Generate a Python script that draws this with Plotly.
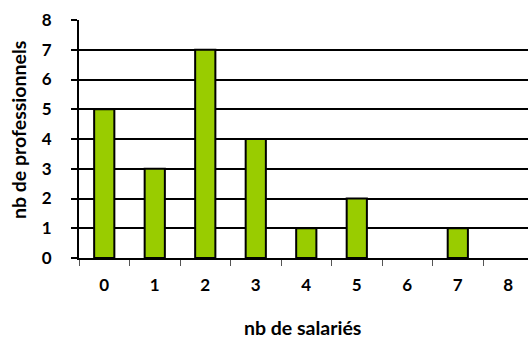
import plotly.graph_objects as go

# Number of professionals by number of employees
salaries = ["0", "1", "2", "3", "4", "5", "6", "7", "8"]
professionnels = [5, 3, 7, 4, 1, 2, 0, 1, 0]

W, H = 528, 340
ML, MT, MB = 79, 20, 82

# no outline on empty categories
outline_widths = [2 if v > 0 else 0 for v in professionnels]

fig = go.Figure(
    go.Bar(
        x=salaries,
        y=professionnels,
        width=0.4,
        marker=dict(color="#99CC00", line=dict(color="black", width=outline_widths)),
    )
)

tick_font = dict(family="Lato", size=17, color="black", weight="bold")
title_font = dict(family="Lato", size=19.5, color="black", weight="bold")

fig.update_layout(
    width=W,
    height=H,
    margin=dict(l=ML, r=0, t=MT, b=MB, pad=0),
    paper_bgcolor="white",
    plot_bgcolor="white",
    showlegend=False,
    xaxis=dict(
        type="category",
        range=[-0.5, 8.39],
        showline=True,
        linecolor="black",
        linewidth=2,
        showgrid=False,
        ticks="outside",
        tickson="boundaries",
        ticklen=6,
        tickwidth=1,
        tickcolor="#555555",
        tickfont=tick_font,
        ticklabelstandoff=11,
        fixedrange=True,
    ),
    yaxis=dict(
        range=[0, 8],
        dtick=1,
        showline=True,
        linecolor="black",
        linewidth=2,
        showgrid=True,
        gridcolor="black",
        gridwidth=2,
        zeroline=False,
        ticks="outside",
        ticklen=6,
        tickwidth=2,
        tickcolor="black",
        tickfont=tick_font,
        ticklabelstandoff=16,
        fixedrange=True,
    ),
    annotations=[
        dict(
            text="nb de salariés",
            xref="paper",
            yref="paper",
            x=(302 - ML) / (W - ML),
            y=-(327 - (H - MB)) / (H - MT - MB),
            xanchor="center",
            yanchor="middle",
            showarrow=False,
            font=title_font,
        ),
        dict(
            text="nb de professionnels",
            xref="paper",
            yref="paper",
            x=-(ML - 18) / (W - ML),
            y=1 - (130 - MT) / (H - MT - MB),
            xanchor="center",
            yanchor="middle",
            textangle=-90,
            showarrow=False,
            font=title_font,
        ),
    ],
)

fig.write_html("out.html")
